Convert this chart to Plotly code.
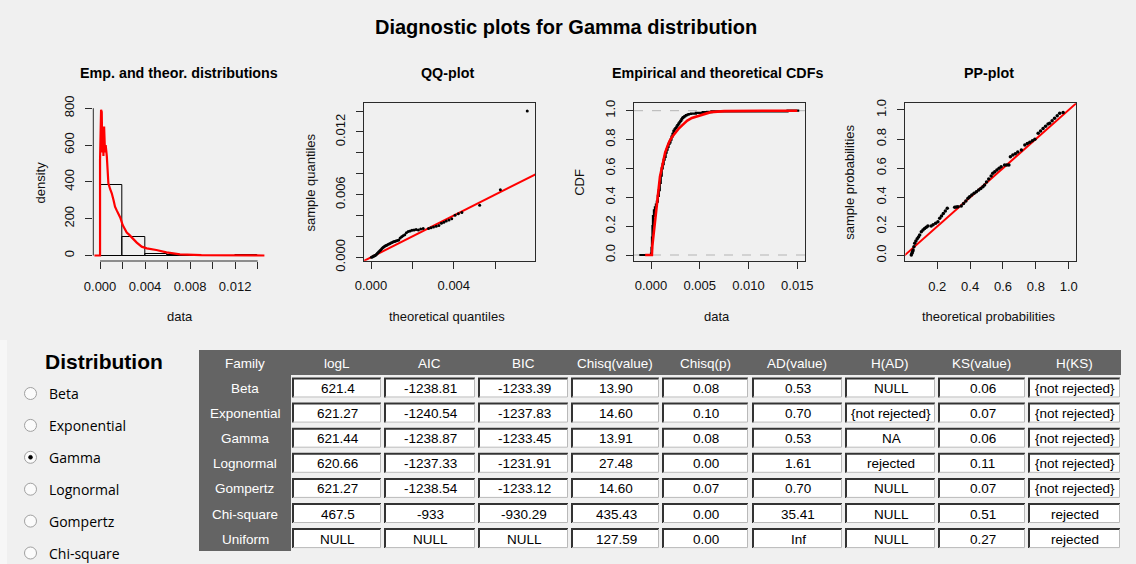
import plotly.graph_objects as go

W, H = 1136, 564
BG = "#f0f0f0"
RFONT = "Liberation Sans, Arial, sans-serif"
UIFONT = "Open Sans, Noto Sans, sans-serif"

# ---------------- data ----------------
hist_breaks = [0.0, 0.002, 0.004, 0.006, 0.008, 0.010, 0.012, 0.014]
hist_density = [385, 100, 10, 3, 0, 0, 2]

dens_x = [-0.0005, 0.0, 0.0, 0.00005, 0.00009, 0.00015, 0.0002, 0.00025, 0.0003, 0.00036,
          0.00044, 0.0005, 0.0006, 0.00074, 0.0009, 0.00104, 0.0012, 0.00133, 0.00148, 0.00163,
          0.0018, 0.00201, 0.0022, 0.00237, 0.0026, 0.00281, 0.00326, 0.0037, 0.00415, 0.005,
          0.0059, 0.0071, 0.009, 0.0146]
dens_y = [0, 0, 519, 640, 791, 780, 560, 690, 540, 700,
          560, 600, 540, 392, 360, 338, 300, 265, 245, 225,
          205, 165, 140, 125, 112, 98, 70, 48, 39, 30,
          17, 6.5, 1.5, 0]

qq_theo = [0.00002, 0.00006, 0.00010, 0.00014, 0.00018, 0.00022, 0.00026, 0.00030, 0.00034, 0.00038,
           0.00043, 0.00048, 0.00053, 0.00058, 0.00063, 0.00068, 0.00073, 0.00078, 0.00084, 0.00090,
           0.00096, 0.00102, 0.00108, 0.00114, 0.00120, 0.00127, 0.00134, 0.00141, 0.00148, 0.00155,
           0.00163, 0.00171, 0.00180, 0.00189, 0.00198, 0.00208, 0.00218, 0.00229, 0.00240, 0.00252,
           0.00278, 0.00290, 0.00302, 0.00315, 0.00328, 0.00340, 0.00352, 0.00364, 0.00377, 0.00390,
           0.00406, 0.00422, 0.00439, 0.00525, 0.00625, 0.00755]
qq_samp = [0.00001, 0.00004, 0.00008, 0.00012, 0.00016, 0.00020, 0.00026, 0.00036, 0.00044, 0.00052,
           0.00062, 0.00072, 0.00084, 0.00094, 0.00102, 0.00108, 0.00114, 0.00118, 0.00124, 0.00130,
           0.00136, 0.00142, 0.00148, 0.00152, 0.00156, 0.00161, 0.00166, 0.00184, 0.00196, 0.00206,
           0.00216, 0.00234, 0.00246, 0.00252, 0.00258, 0.00262, 0.00266, 0.00262, 0.00270, 0.00276,
           0.00276, 0.00282, 0.00290, 0.00298, 0.00305, 0.00325, 0.00336, 0.00348, 0.00358, 0.00370,
           0.00402, 0.00416, 0.00428, 0.00497, 0.00646, 0.01400]

ecdf_x = [-0.0012, 0.0, 0.00005, 0.0001, 0.00015, 0.0002, 0.0003, 0.0004, 0.0005, 0.0006,
          0.0007, 0.0008, 0.0009, 0.001, 0.0011, 0.0012, 0.0013, 0.0014, 0.0015, 0.0016,
          0.0017, 0.0018, 0.0019, 0.002, 0.0021, 0.0022, 0.0023, 0.0024, 0.0025, 0.0026,
          0.0027, 0.0028, 0.0029, 0.003, 0.0031, 0.0032, 0.0033, 0.0034, 0.0035, 0.0036,
          0.0037, 0.0038, 0.0039, 0.0041, 0.0046, 0.0053, 0.0062, 0.014, 0.0152]
ecdf_y = [0, 0.01, 0.05, 0.12, 0.20, 0.27, 0.31, 0.33, 0.35, 0.37,
          0.41, 0.45, 0.50, 0.55, 0.60, 0.63, 0.66, 0.68, 0.71, 0.73,
          0.75, 0.77, 0.78, 0.80, 0.82, 0.84, 0.86, 0.87, 0.88, 0.89,
          0.90, 0.91, 0.92, 0.93, 0.94, 0.95, 0.955, 0.96, 0.965, 0.97,
          0.972, 0.975, 0.977, 0.98, 0.985, 0.99, 0.995, 1.0, 1.0]

cdf_x = [-0.0006, 0.00009, 0.00013, 0.00025, 0.00038, 0.0005, 0.00065, 0.0008, 0.00092, 0.0011,
         0.00126, 0.00145, 0.00167, 0.0019, 0.00218, 0.0025, 0.00287, 0.0033, 0.00372, 0.0042,
         0.00475, 0.0054, 0.00612, 0.0075, 0.009, 0.0115, 0.0150]
cdf_y = [0, 0, 0.06, 0.13, 0.196, 0.29, 0.381, 0.47, 0.543, 0.60,
         0.658, 0.71, 0.751, 0.79, 0.82, 0.85, 0.878, 0.905, 0.931, 0.95,
         0.963, 0.978, 0.99, 0.997, 0.999, 1.0, 1.0]

pp_theo = [0.042, 0.046, 0.050, 0.053, 0.058, 0.063, 0.070, 0.078, 0.086, 0.093,
           0.103, 0.113, 0.123, 0.133, 0.143, 0.163, 0.175, 0.190, 0.204, 0.215,
           0.226, 0.237, 0.249, 0.261, 0.306, 0.316, 0.326, 0.346, 0.360, 0.374,
           0.387, 0.397, 0.410, 0.424, 0.438, 0.452, 0.465, 0.478, 0.488, 0.500,
           0.513, 0.528, 0.538, 0.550, 0.563, 0.576, 0.589, 0.610, 0.623, 0.636,
           0.645, 0.660, 0.675, 0.690, 0.712, 0.733, 0.748, 0.763, 0.779, 0.794,
           0.814, 0.829, 0.844, 0.859, 0.874, 0.884, 0.899, 0.914, 0.930, 0.945,
           0.966]
pp_samp = [0.003, 0.015, 0.028, 0.038, 0.060, 0.084, 0.100, 0.115, 0.128, 0.141,
           0.164, 0.175, 0.185, 0.195, 0.203, 0.203, 0.212, 0.222, 0.232, 0.256,
           0.272, 0.289, 0.306, 0.324, 0.331, 0.333, 0.335, 0.340, 0.357, 0.375,
           0.393, 0.404, 0.415, 0.427, 0.438, 0.450, 0.461, 0.473, 0.485, 0.505,
           0.525, 0.546, 0.565, 0.576, 0.588, 0.599, 0.610, 0.622, 0.622, 0.622,
           0.679, 0.690, 0.700, 0.712, 0.725, 0.759, 0.769, 0.779, 0.789, 0.799,
           0.840, 0.856, 0.872, 0.888, 0.904, 0.909, 0.926, 0.943, 0.960, 0.977,
           0.982]

qq_ref = [-0.001, 0.02]
pp_ref = [-0.1, 1.2]

hist_xticks = [0.0, 0.002, 0.004, 0.006, 0.008, 0.010, 0.012, 0.014]
hist_xlabels = ["0.000", "", "0.004", "", "0.008", "", "0.012", ""]
hist_yticks = [0, 200, 400, 600, 800]
qq_xticks = [0.0, 0.002, 0.004, 0.006]
qq_xlabels = ["0.000", "", "0.004", ""]
qq_yticks = [0.0, 0.002, 0.004, 0.006, 0.008, 0.010, 0.012, 0.014]
qq_ylabels = ["0.000", "", "", "0.006", "", "", "0.012", ""]
cdf_xticks = [0.0, 0.005, 0.010, 0.015]
cdf_xlabels = ["0.000", "0.005", "0.010", "0.015"]
prob_ticks = [0.0, 0.2, 0.4, 0.6, 0.8, 1.0]
prob_labels = ["0.0", "0.2", "0.4", "0.6", "0.8", "1.0"]
pp_xticks = [0.2, 0.4, 0.6, 0.8, 1.0]
pp_xlabels = ["0.2", "0.4", "0.6", "0.8", "1.0"]

main_title = "Diagnostic plots for Gamma distribution"
sub_titles = ["Emp. and theor. distributions", "QQ-plot", "Empirical and theoretical CDFs", "PP-plot"]
x_titles = ["data", "theoretical quantiles", "data", "theoretical probabilities"]
y_titles = ["density", "sample quantiles", "CDF", "sample probabilities"]

dist_options = ["Beta", "Exponential", "Gamma", "Lognormal", "Gompertz", "Chi-square"]
dist_selected = "Gamma"

table_headers = ["Family", "logL", "AIC", "BIC", "Chisq(value)", "Chisq(p)",
                 "AD(value)", "H(AD)", "KS(value)", "H(KS)"]
families = ["Beta", "Exponential", "Gamma", "Lognormal", "Gompertz", "Chi-square", "Uniform"]
logL = ["621.4", "621.27", "621.44", "620.66", "621.27", "467.5", "NULL"]
aic = ["-1238.81", "-1240.54", "-1238.87", "-1237.33", "-1238.54", "-933", "NULL"]
bic = ["-1233.39", "-1237.83", "-1233.45", "-1231.91", "-1233.12", "-930.29", "NULL"]
chisq_value = ["13.90", "14.60", "13.91", "27.48", "14.60", "435.43", "127.59"]
chisq_p = ["0.08", "0.10", "0.08", "0.00", "0.07", "0.00", "0.00"]
ad_value = ["0.53", "0.70", "0.53", "1.61", "0.70", "35.41", "Inf"]
h_ad = ["NULL", "{not rejected}", "NA", "rejected", "NULL", "NULL", "NULL"]
ks_value = ["0.06", "0.07", "0.06", "0.11", "0.07", "0.51", "0.27"]
h_ks = ["{not rejected}", "{not rejected}", "{not rejected}", "{not rejected}",
        "{not rejected}", "rejected", "rejected"]
table_columns = [logL, aic, bic, chisq_value, chisq_p, ad_value, h_ad, ks_value, h_ks]


# ---------------- helpers (pixel -> paper) ----------------
def px(x):
    return x / W


def py(y):
    return 1 - y / H


fig = go.Figure()

# --- plot 1: histogram + density
fig.add_trace(go.Bar(
    x=hist_breaks[:-1], y=hist_density,
    width=[b - a for a, b in zip(hist_breaks[:-1], hist_breaks[1:])], offset=0,
    marker=dict(color="rgba(0,0,0,0)", line=dict(color="#000000", width=1)),
    xaxis="x", yaxis="y", showlegend=False, hoverinfo="skip"))
fig.add_trace(go.Scatter(x=dens_x, y=dens_y, mode="lines",
                         line=dict(color="#ff0000", width=2.2),
                         xaxis="x", yaxis="y", showlegend=False))

# --- plot 2: QQ
fig.add_trace(go.Scatter(x=qq_ref, y=qq_ref, mode="lines", line=dict(color="#ff0000", width=2),
                         xaxis="x2", yaxis="y2", showlegend=False))
fig.add_trace(go.Scatter(x=qq_theo, y=qq_samp, mode="markers",
                         marker=dict(color="#000000", size=3),
                         xaxis="x2", yaxis="y2", showlegend=False))

# --- plot 3: CDFs
fig.add_trace(go.Scatter(x=ecdf_x, y=ecdf_y, mode="lines", line=dict(color="#000000", width=2.2, shape="hv"),
                         xaxis="x3", yaxis="y3", showlegend=False))
fig.add_trace(go.Scatter(x=cdf_x, y=cdf_y, mode="lines", line=dict(color="#ff0000", width=2.6),
                         xaxis="x3", yaxis="y3", showlegend=False))

# --- plot 4: PP
fig.add_trace(go.Scatter(x=pp_ref, y=pp_ref, mode="lines", line=dict(color="#ff0000", width=2),
                         xaxis="x4", yaxis="y4", showlegend=False))
fig.add_trace(go.Scatter(x=pp_theo, y=pp_samp, mode="markers",
                         marker=dict(color="#000000", size=3.5),
                         xaxis="x4", yaxis="y4", showlegend=False))

tickfont = dict(family=RFONT, size=13, color="#111111")
XSTAND = 6
YSTAND = 6


def ax(domain, rng, anchor, vals, labels=None, box=True, yaxis=False):
    d = dict(domain=domain, range=rng, anchor=anchor, showgrid=False, zeroline=False,
             automargin=False,
             ticks="outside", ticklen=7, tickwidth=1, tickcolor="#2a2a2a",
             tickfont=tickfont, tickvals=vals, fixedrange=True,
             showline=box, mirror=box, linecolor="#2a2a2a", linewidth=1,
             ticklabelstandoff=YSTAND if yaxis else XSTAND)
    if labels is not None:
        d["ticktext"] = labels
    if yaxis:
        d["tickangle"] = -90
    return d


layout = dict(
    width=W, height=H, autosize=False, margin=dict(l=0, r=0, t=0, b=0, pad=0, autoexpand=False),
    paper_bgcolor=BG, plot_bgcolor="rgba(0,0,0,0)", showlegend=False, bargap=0,
    xaxis=ax([px(93.3), px(268)], [-0.00060, 0.01492], "y", hist_xticks, hist_xlabels, box=False),
    yaxis=ax([py(261), py(104)], [-29.9, 823], "x", hist_yticks, None, box=False, yaxis=True),
    xaxis2=ax([px(364), px(535)], [-0.000338, 0.007923], "y2", qq_xticks, qq_xlabels),
    yaxis2=ax([py(260.7), py(103.3)], [-0.000325, 0.014737], "x2", qq_yticks, qq_ylabels, yaxis=True),
    xaxis3=ax([px(634), px(805)], [-0.001743, 0.01579], "y3", cdf_xticks, cdf_xlabels),
    yaxis3=ax([py(260.7), py(103.3)], [-0.0395, 1.0513], "x3", prob_ticks, prob_labels, yaxis=True),
    xaxis4=ax([px(905.3), px(1076)], [0.0055, 1.0444], "y4", pp_xticks, pp_xlabels),
    yaxis4=ax([py(261), py(103.3)], [-0.0378, 1.046], "x4", prob_ticks, prob_labels, yaxis=True),
)

shapes = []
# histogram axis lines (R style, first to last tick)
shapes.append(dict(type="line", xref="paper", yref="y", x0=px(93.3), x1=px(93.3),
                   y0=hist_yticks[0], y1=hist_yticks[-1], line=dict(color="#2a2a2a", width=1)))
shapes.append(dict(type="line", xref="x", yref="paper", x0=hist_xticks[0], x1=hist_xticks[-1],
                   y0=py(261), y1=py(261), line=dict(color="#2a2a2a", width=1)))
# CDF grey dashed reference lines
for lvl in (0, 1):
    shapes.append(dict(type="line", xref="x3 domain", yref="y3", x0=0, x1=1, y0=lvl, y1=lvl,
                       layer="below", line=dict(color="#b4b4b4", width=1, dash="dash")))

# left pane light strip
shapes.append(dict(type="rect", xref="paper", yref="paper", x0=0, x1=px(7), y0=0, y1=py(340),
                   line=dict(width=0), fillcolor="#f7f7f7", layer="below"))

# radio buttons
radio_y0, radio_dy = 393.5, 31.9
for i, name in enumerate(dist_options):
    cy = radio_y0 + radio_dy * i
    shapes.append(dict(type="circle", xref="paper", yref="paper",
                       x0=px(24.5), x1=px(36.5), y0=py(cy + 6), y1=py(cy - 6),
                       line=dict(color="#a0a0a0", width=1), fillcolor="#fbfbfb"))
    if name == dist_selected:
        shapes.append(dict(type="circle", xref="paper", yref="paper",
                           x0=px(28.5), x1=px(32.5), y0=py(cy + 2), y1=py(cy - 2),
                           line=dict(color="#000000", width=0.5), fillcolor="#000000"))

# table
DARK = "#646464"
tbl_left, tbl_right, tbl_top, tbl_bottom = 199, 1121, 350, 551
col_edges = [(199, 291), (292, 381), (384, 475), (478, 568), (571, 659),
             (662, 748), (752, 842), (845, 935), (938, 1025), (1028, 1120)]
header_y = 363
row_y0, row_dy = 388.5, 25.1

shapes.append(dict(type="rect", xref="paper", yref="paper", x0=px(tbl_left), x1=px(tbl_right),
                   y0=py(375), y1=py(tbl_top), line=dict(width=0), fillcolor=DARK))
shapes.append(dict(type="rect", xref="paper", yref="paper", x0=px(tbl_left), x1=px(col_edges[0][1]),
                   y0=py(tbl_bottom), y1=py(tbl_top), line=dict(width=0), fillcolor=DARK))

annotations = []
for ci, (l, r) in enumerate(col_edges):
    annotations.append(dict(text=table_headers[ci], x=px((l + r) / 2), y=py(header_y),
                            xref="paper", yref="paper", showarrow=False,
                            xanchor="center", yanchor="middle",
                            font=dict(family=RFONT, size=13.5, color="#ffffff")))

for ri, fam in enumerate(families):
    cy = row_y0 + row_dy * ri
    l, r = col_edges[0]
    annotations.append(dict(text=fam, x=px((l + r) / 2), y=py(cy), xref="paper", yref="paper",
                            showarrow=False, xanchor="center", yanchor="middle",
                            font=dict(family=RFONT, size=13.5, color="#ffffff")))
    for ci, col in enumerate(table_columns):
        l, r = col_edges[ci + 1]
        t, b = cy - 11, cy + 9
        shapes.append(dict(type="rect", xref="paper", yref="paper", x0=px(l), x1=px(r),
                           y0=py(b), y1=py(t), line=dict(width=0), fillcolor="#ffffff"))
        shapes.append(dict(type="path", xref="paper", yref="paper",
                           path=f"M {px(l + 1)},{py(b)} L {px(l + 1)},{py(t + 1)} L {px(r)},{py(t + 1)}",
                           line=dict(color="#333333", width=2)))
        shapes.append(dict(type="path", xref="paper", yref="paper",
                           path=f"M {px(l + 1)},{py(b - 0.5)} L {px(r - 0.5)},{py(b - 0.5)} L {px(r - 0.5)},{py(t + 1)}",
                           line=dict(color="#b9b9b9", width=1)))
        annotations.append(dict(text=col[ri], x=px((l + r) / 2 + 1), y=py(cy), xref="paper", yref="paper",
                                showarrow=False, xanchor="center", yanchor="middle",
                                font=dict(family=RFONT, size=13.5, color="#000000")))

# titles
annotations.append(dict(text=f"<b>{main_title}</b>", x=px(566), y=py(27), xref="paper", yref="paper",
                        showarrow=False, xanchor="center", yanchor="middle",
                        font=dict(family=RFONT, size=20, color="#000000")))
sub_cx = [178.5, 447.5, 717.5, 988.7]
xlab_cx = [180, 446.7, 716.7, 988.3]
ylab_cx = [40, 310, 579.3, 849.3]
for i in range(4):
    annotations.append(dict(text=f"<b>{sub_titles[i]}</b>", x=px(sub_cx[i]), y=py(73),
                            xref="paper", yref="paper", showarrow=False,
                            xanchor="center", yanchor="middle",
                            font=dict(family=RFONT, size=14.3, color="#000000")))
    annotations.append(dict(text=x_titles[i], x=px(xlab_cx[i]), y=py(316.7),
                            xref="paper", yref="paper", showarrow=False,
                            xanchor="center", yanchor="middle",
                            font=dict(family=RFONT, size=13, color="#111111")))
    annotations.append(dict(text=y_titles[i], x=px(ylab_cx[i]), y=py(182.5), textangle=-90,
                            xref="paper", yref="paper", showarrow=False,
                            xanchor="center", yanchor="middle",
                            font=dict(family=RFONT, size=13, color="#111111")))

# left pane
annotations.append(dict(text="<b>Distribution</b>", x=px(104), y=py(361), xref="paper", yref="paper",
                        showarrow=False, xanchor="center", yanchor="middle",
                        font=dict(family=RFONT, size=21, color="#000000")))
for i, name in enumerate(dist_options):
    cy = radio_y0 + radio_dy * i
    annotations.append(dict(text=name, x=px(47), y=py(cy), xref="paper", yref="paper",
                            showarrow=False, xanchor="left", yanchor="middle",
                            font=dict(family=UIFONT, size=14, color="#000000")))

layout["shapes"] = shapes
layout["annotations"] = annotations
fig.update_layout(**layout)

fig.write_html("out.html")
